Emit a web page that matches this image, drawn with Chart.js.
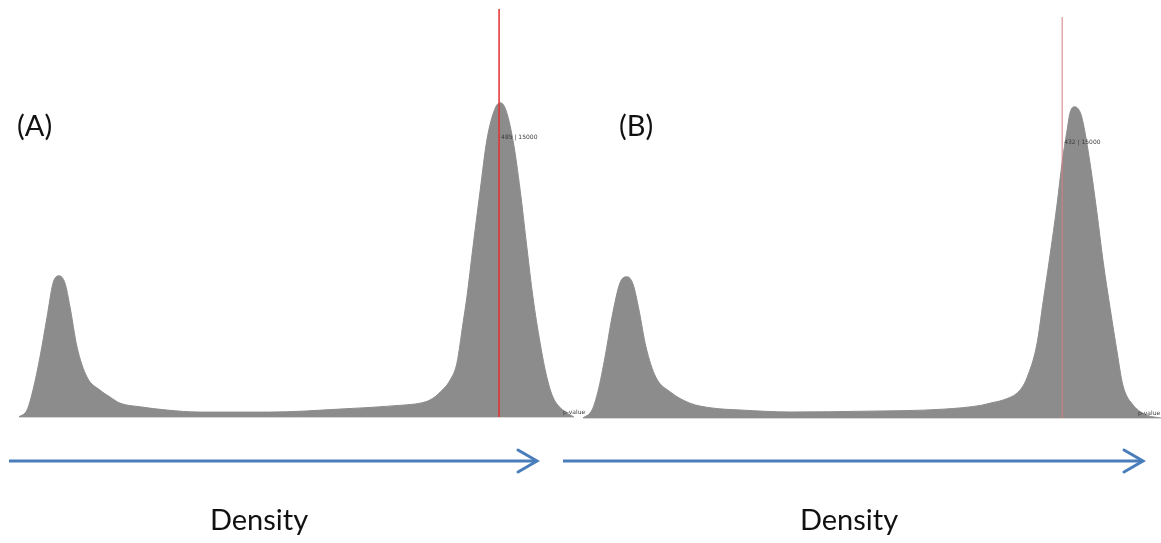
<!DOCTYPE html>
<html lang="en">
<head>
<meta charset="UTF-8">
<title>Density</title>
<script src="https://cdn.jsdelivr.net/npm/chart.js@4"></script>
<style>
  body { margin: 0; background: #fff; }
  .wrap { position: relative; width: 1161px; height: 543px; }
  .wrap canvas { position: absolute; left: 0; top: 0; }
</style>
</head>
<body>
<div class="wrap">
  <canvas id="panelA" width="1161" height="543"></canvas>
  <canvas id="panelB" width="1161" height="543"></canvas>
</div>
<script>
// Panel (A): density curve (x in relative units 0..100, y relative to the axis height)
const densityAX = [0, 1.44, 2.52, 3.78, 5.05, 6.13, 7.21, 8.29, 9.19, 10.45, 12.25, 14.59, 16.4, 18.2, 21.8, 26.67,
  32.6, 44.9, 58.6, 69.0, 72.3, 74.1, 75.9, 77.7, 78.9, 80.0, 80.7, 81.8, 83.1, 84.3, 85.8, 86.7, 87.6,
  89.0, 90.3, 91.5, 92.6, 93.9, 95.1, 96.2, 98.0, 100];
const densityAY = [0, 0.017, 0.066, 0.147, 0.245, 0.328, 0.346, 0.328, 0.270, 0.172, 0.098, 0.066, 0.049, 0.034, 0.025, 0.017,
  0.012, 0.012, 0.020, 0.029, 0.034, 0.042, 0.061, 0.091, 0.132, 0.230, 0.294, 0.417, 0.556, 0.679, 0.757, 0.770, 0.757,
  0.679, 0.556, 0.417, 0.294, 0.181, 0.098, 0.049, 0.017, 0];
const markerA = 86.5;
const peakLabelA = '485 | 15000';

// Panel (B)
const densityBX = [0, 1.56, 2.60, 3.81, 5.02, 6.40, 7.61, 8.65, 9.69, 10.9, 12.6, 15.1, 18.5, 22.3, 27.2,
  35.8, 49.1, 62.3, 69.0, 70.4, 72.7, 75.1, 76.0, 76.8, 78.5, 79.6, 80.8, 82.0, 82.9, 83.7, 84.3, 85.1, 86.0,
  86.5, 87.7, 88.9, 90.0, 91.2, 92.4, 93.4, 95.2, 97.6, 100];
const densityBY = [0, 0.020, 0.067, 0.152, 0.252, 0.337, 0.352, 0.334, 0.269, 0.177, 0.102, 0.065, 0.037, 0.025, 0.020,
  0.015, 0.017, 0.022, 0.032, 0.037, 0.045, 0.062, 0.077, 0.100, 0.182, 0.289, 0.406, 0.531, 0.638, 0.713, 0.763, 0.776, 0.763,
  0.738, 0.638, 0.514, 0.389, 0.274, 0.165, 0.082, 0.032, 0.007, 0];
const markerB = 82.9;
const peakLabelB = '432 | 15000';

const cornerLabel = 'p-value';
const axisTitle = 'Density';

const FILL = '#8c8c8c';
const ARROW = '#4a7ebb';

function toPoints(xs, ys) {
  return xs.map((x, i) => ({ x, y: ys[i] }));
}

// Draws the panel letter, small annotations, the baseline and the arrow with its caption
function panelDecor(opts) {
  return {
    id: 'panelDecor',
    afterDatasetsDraw(chart) {
      const ctx = chart.ctx;
      const area = chart.chartArea;
      const xs = chart.scales.x;
      const ys = chart.scales.y;
      ctx.save();

      // thin baseline
      ctx.strokeStyle = '#d6d6d6';
      ctx.lineWidth = 1;
      ctx.beginPath();
      ctx.moveTo(area.left, area.bottom + 0.5);
      ctx.lineTo(area.right, area.bottom + 0.5);
      ctx.stroke();

      // peak annotation next to the marker
      const mx = xs.getPixelForValue(opts.marker);
      ctx.fillStyle = '#3a3a3a';
      ctx.font = '6px "DejaVu Sans"';
      ctx.textBaseline = 'middle';
      ctx.textAlign = 'left';
      ctx.fillText(opts.peakLabel, mx + 2, ys.getPixelForValue(opts.peakLabelY));

      // corner label at the right end of the curve
      ctx.fillText(cornerLabel, area.right - opts.cornerInset, area.bottom - 5);

      // panel letter
      ctx.fillStyle = '#111';
      ctx.font = '29px Lato';
      ctx.textBaseline = 'alphabetic';
      ctx.fillText(opts.letter, opts.letterX, 136);

      // arrow under the panel
      const ay = 461;
      ctx.strokeStyle = ARROW;
      ctx.lineWidth = 3;
      ctx.lineCap = 'butt';
      ctx.beginPath();
      ctx.moveTo(opts.arrowFrom, ay);
      ctx.lineTo(opts.arrowTo, ay);
      ctx.stroke();
      ctx.lineCap = 'round';
      ctx.lineJoin = 'miter';
      ctx.beginPath();
      ctx.moveTo(opts.arrowTo - 19, ay - 11);
      ctx.lineTo(opts.arrowTo, ay);
      ctx.lineTo(opts.arrowTo - 19, ay + 11);
      ctx.stroke();

      // caption
      ctx.fillStyle = '#111';
      ctx.font = '29px Lato';
      ctx.textAlign = 'center';
      ctx.fillText(axisTitle, opts.titleX, 530);
      ctx.restore();
    }
  };
}

function makePanel(canvasId, xs, ys, marker, markerColor, markerWidth, padding, decor) {
  return new Chart(document.getElementById(canvasId), {
    type: 'line',
    data: {
      datasets: [
        {
          data: [{ x: marker, y: 0 }, { x: marker, y: 1 }],
          borderColor: markerColor,
          borderWidth: markerWidth,
          pointRadius: 0,
          fill: false,
          order: 0
        },
        {
          data: toPoints(xs, ys),
          backgroundColor: FILL,
          borderColor: FILL,
          borderWidth: 1,
          pointRadius: 0,
          fill: 'origin',
          cubicInterpolationMode: 'monotone',
          order: 1
        }
      ]
    },
    options: {
      responsive: false,
      animation: false,
      layout: { padding },
      plugins: { legend: { display: false }, tooltip: { enabled: false } },
      scales: {
        x: { type: 'linear', min: 0, max: 100, display: false },
        y: { min: 0, max: 1, display: false }
      }
    },
    plugins: [decor]
  });
}

makePanel('panelA', densityAX, densityAY, markerA, '#e3302c', 1.5,
  { left: 19, right: 587, top: 9, bottom: 126 },
  panelDecor({
    marker: markerA, peakLabel: peakLabelA, peakLabelY: 0.684, cornerInset: 11,
    letter: '(A)', letterX: 17, arrowFrom: 9, arrowTo: 537, titleX: 259
  }));

makePanel('panelB', densityBX, densityBY, markerB, '#d4807f', 1,
  { left: 583, right: 0, top: 17, bottom: 125 },
  panelDecor({
    marker: markerB, peakLabel: peakLabelB, peakLabelY: 0.688, cornerInset: 23,
    letter: '(B)', letterX: 619, arrowFrom: 563, arrowTo: 1143, titleX: 849
  }));
</script>
</body>
</html>
